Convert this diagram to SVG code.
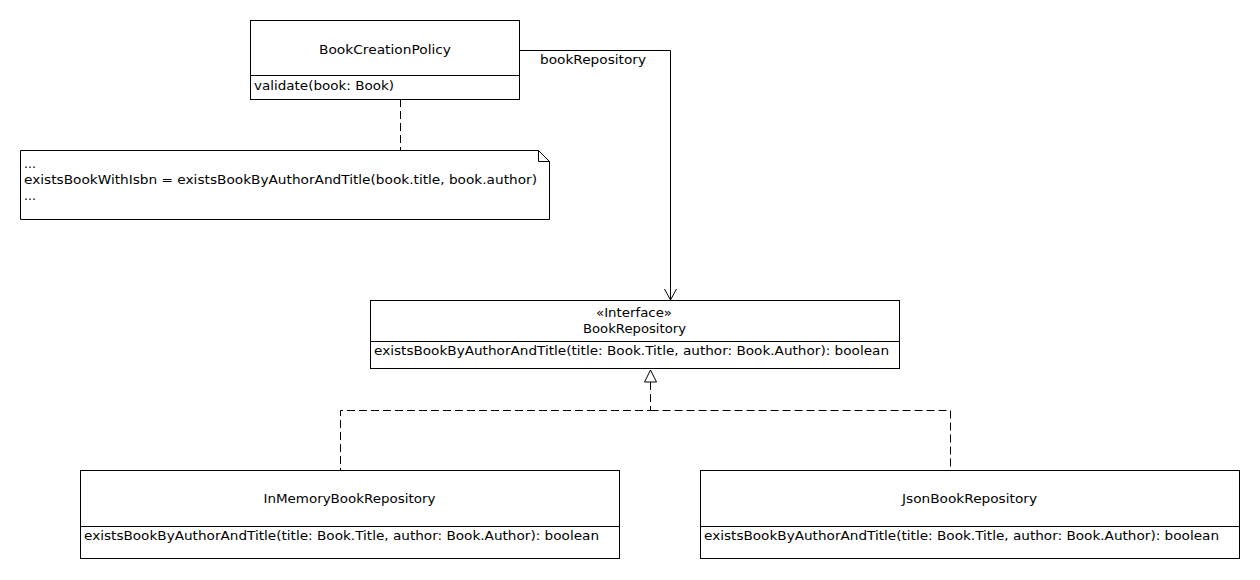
<svg xmlns="http://www.w3.org/2000/svg" width="1260" height="580" viewBox="0 0 1260 580">
<style>
.box{fill:#fff;stroke:#000;stroke-width:1}
.ln{fill:none;stroke:#000;stroke-width:1}
.dash{fill:none;stroke:#000;stroke-width:1;stroke-dasharray:8,4}
text{font-family:"DejaVu Sans","Liberation Sans",sans-serif;font-size:12.5px;fill:#000}
.c{text-anchor:middle}
</style>
<rect width="1260" height="580" fill="#fff"/>
<g id="connectors">
<path class="ln" d="M519.5,50.5 H670.5 V300"/>
<path class="ln" d="M664.5,289 L670.5,300 L676.5,289"/>
<text x="540" y="64" textLength="106" lengthAdjust="spacingAndGlyphs">bookRepository</text>
<path class="dash" d="M400.5,99 V150"/>
<path class="dash" d="M650.5,382 V410.5 H340.5 V470"/>
<path class="dash" d="M650.5,410.5 H950.5 V470"/>
<path class="box" d="M650.5,370 L644.5,382 L656.5,382 Z"/>
</g>
<g id="BookCreationPolicy">
<rect class="box" x="250.5" y="20.5" width="269" height="79"/>
<line class="ln" x1="250.5" y1="75.5" x2="519.5" y2="75.5"/>
<text class="c" x="385" y="54" textLength="132" lengthAdjust="spacingAndGlyphs">BookCreationPolicy</text>
<text x="254" y="90" textLength="140" lengthAdjust="spacingAndGlyphs">validate(book: Book)</text>
</g>
<g id="note">
<path class="box" d="M20.5,150.5 H538.5 L549.5,161.5 V219.5 H20.5 Z"/>
<path class="ln" d="M538.5,150.5 V161.5 H549.5"/>
<text x="24" y="168">...</text>
<text x="24" y="184" textLength="513" lengthAdjust="spacingAndGlyphs">existsBookWithIsbn = existsBookByAuthorAndTitle(book.title, book.author)</text>
<text x="24" y="200">...</text>
</g>
<g id="BookRepository">
<rect class="box" x="370.5" y="300.5" width="529" height="68"/>
<line class="ln" x1="370.5" y1="341.5" x2="899.5" y2="341.5"/>
<text class="c" x="634" y="317" textLength="76" lengthAdjust="spacingAndGlyphs">«Interface»</text>
<text class="c" x="634.5" y="333" textLength="103" lengthAdjust="spacingAndGlyphs">BookRepository</text>
<text x="374" y="355" textLength="515" lengthAdjust="spacingAndGlyphs">existsBookByAuthorAndTitle(title: Book.Title, author: Book.Author): boolean</text>
</g>
<g id="InMemoryBookRepository">
<rect class="box" x="80.5" y="470.5" width="539" height="88"/>
<line class="ln" x1="80.5" y1="526.5" x2="619.5" y2="526.5"/>
<text class="c" x="349.5" y="503" textLength="172" lengthAdjust="spacingAndGlyphs">InMemoryBookRepository</text>
<text x="84" y="540" textLength="515" lengthAdjust="spacingAndGlyphs">existsBookByAuthorAndTitle(title: Book.Title, author: Book.Author): boolean</text>
</g>
<g id="JsonBookRepository">
<rect class="box" x="700.5" y="470.5" width="539" height="88"/>
<line class="ln" x1="700.5" y1="526.5" x2="1239.5" y2="526.5"/>
<text class="c" x="969.5" y="503" textLength="135" lengthAdjust="spacingAndGlyphs">JsonBookRepository</text>
<text x="704" y="540" textLength="515" lengthAdjust="spacingAndGlyphs">existsBookByAuthorAndTitle(title: Book.Title, author: Book.Author): boolean</text>
</g>
</svg>
